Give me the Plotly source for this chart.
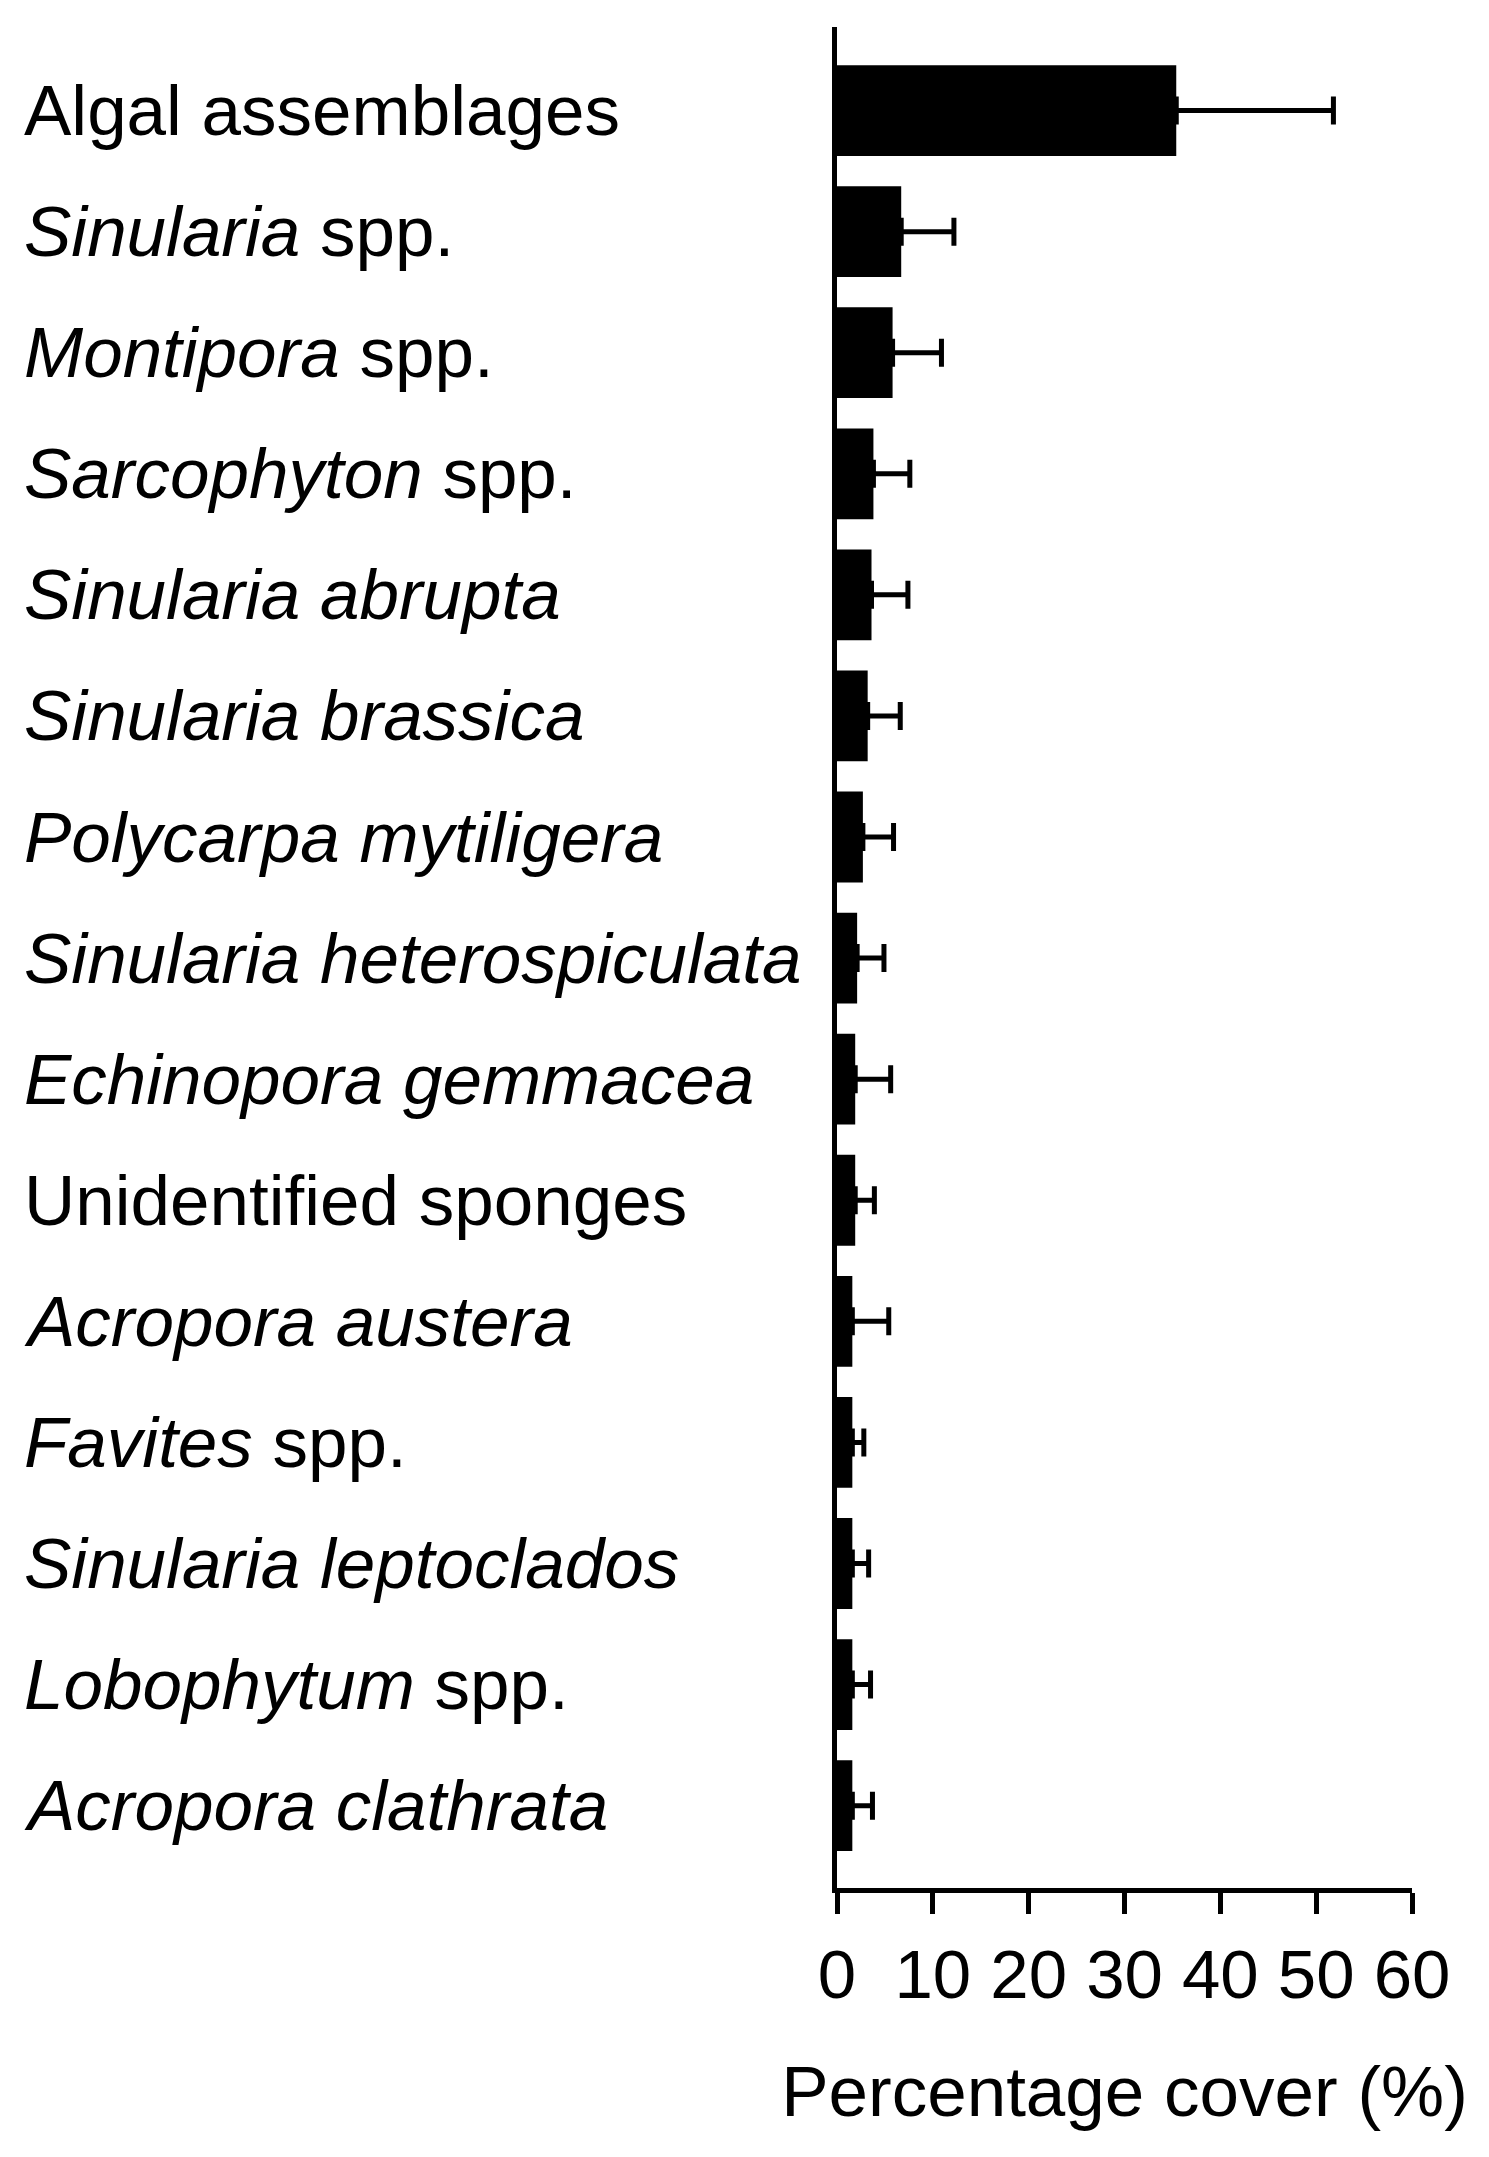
import plotly.graph_objects as go

# categories, top to bottom
categories = [
    "Algal assemblages",
    "<i>Sinularia</i> spp.",
    "<i>Montipora</i> spp.",
    "<i>Sarcophyton</i> spp.",
    "<i>Sinularia abrupta</i>",
    "<i>Sinularia brassica</i>",
    "<i>Polycarpa mytiligera</i>",
    "<i>Sinularia heterospiculata</i>",
    "<i>Echinopora gemmacea</i>",
    "Unidentified sponges",
    "<i>Acropora austera</i>",
    "<i>Favites</i> spp.",
    "<i>Sinularia leptoclados</i>",
    "<i>Lobophytum</i> spp.",
    "<i>Acropora clathrata</i>",
]
cover = [35.4, 6.7, 5.8, 3.8, 3.6, 3.2, 2.7, 2.1, 1.9, 1.9, 1.6, 1.6, 1.6, 1.6, 1.6]
cover_err = [16.4, 5.5, 5.1, 3.8, 3.8, 3.4, 3.2, 2.8, 3.7, 2.0, 3.8, 1.2, 1.7, 1.9, 2.1]

x_ticks = [0, 10, 20, 30, 40, 50, 60]

FONT = "Liberation Sans, Arial, Helvetica, sans-serif"
W, H = 1489, 2157
L_MARGIN, R_MARGIN, T_MARGIN, B_MARGIN = 829, 85, 19, 277

fig = go.Figure()

fig.add_trace(
    go.Bar(
        y=categories,
        x=cover,
        orientation='h',
        width=0.75,
        marker=dict(color='black', line=dict(width=0)),
        error_x=dict(
            type='data',
            symmetric=False,
            array=cover_err,
            arrayminus=[0] * len(cover_err),
            color='black',
            thickness=5,
            width=14
        ),
        showlegend=False
    )
)

# left-aligned category labels
for c in categories:
    fig.add_annotation(
        x=0, xref='paper', xanchor='left', xshift=-(L_MARGIN - 14),
        y=c, yref='y', yanchor='middle',
        text=c, showarrow=False,
        font=dict(family=FONT, size=71, color='black')
    )

# end ticks of the y axis (pointing left)
for yy in [0, 1]:
    fig.add_shape(
        type='line', xref='x', xsizemode='pixel', xanchor=0, x0=-15, x1=0,
        yref='y domain', y0=yy, y1=yy,
        line=dict(color='black', width=5)
    )

fig.update_layout(
    width=W,
    height=H,
    margin=dict(l=L_MARGIN, r=R_MARGIN, t=T_MARGIN, b=B_MARGIN),
    plot_bgcolor='white',
    paper_bgcolor='white',
    font=dict(family=FONT, color='black', size=69),
    bargap=0.25,
    xaxis=dict(
        range=[0, 60],
        tickvals=x_ticks,
        ticks='outside',
        ticklen=21,
        tickwidth=5,
        tickcolor='black',
        showline=True,
        linecolor='black',
        linewidth=5,
        showgrid=False,
        zeroline=False,
        tickfont=dict(size=69),
        ticklabelstandoff=1,
        title=dict(text='Percentage cover (%)', font=dict(size=71), standoff=56)
    ),
    yaxis=dict(
        type='category',
        categoryorder='array',
        categoryarray=categories,
        range=[14.68, -0.69],
        showline=True,
        linecolor='black',
        linewidth=5,
        showgrid=False,
        zeroline=False,
        ticks='',
        showticklabels=False
    )
)

fig.write_html("out.html")
